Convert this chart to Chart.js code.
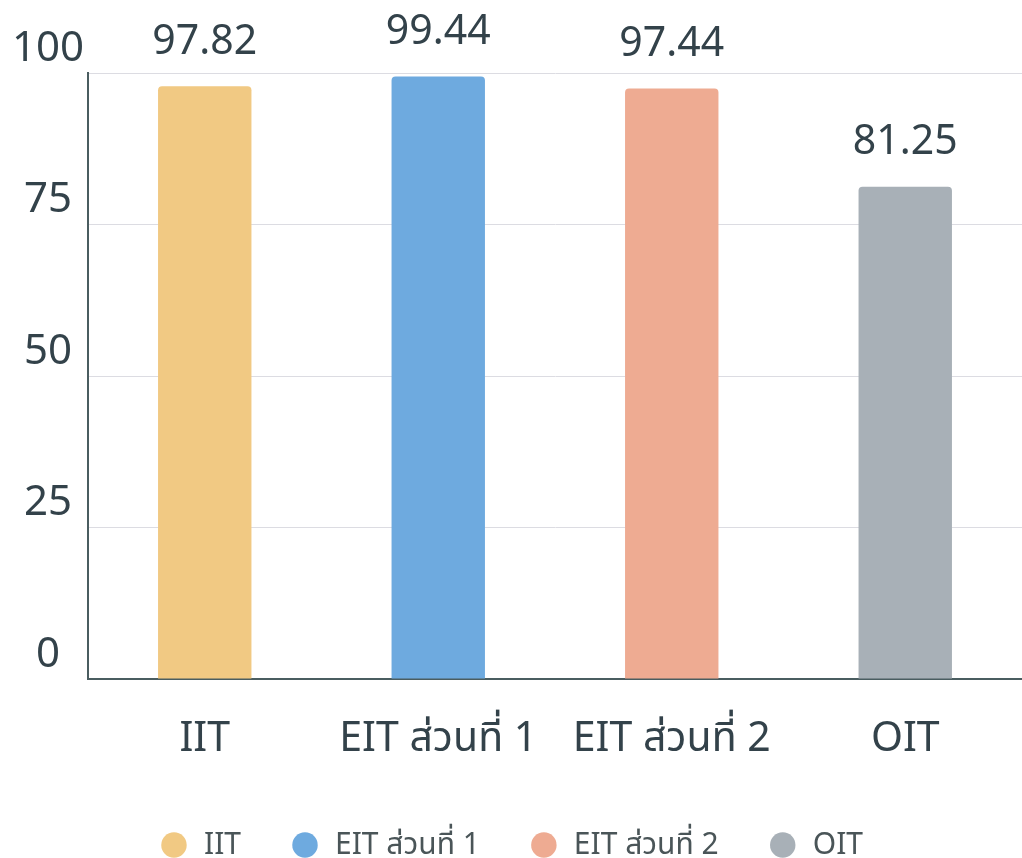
<!DOCTYPE html>
<html>
<head>
<meta charset="utf-8">
<script src="https://cdn.jsdelivr.net/npm/chart.js@4.4.0/dist/chart.umd.min.js"></script>
<style>
  html, body { margin: 0; padding: 0; background: #ffffff; }
  #wrap { width: 1022px; height: 858px; }
</style>
</head>
<body>
<div id="wrap"><canvas id="c" width="1022" height="858"></canvas></div>
<script>
const categories = ['IIT', 'EIT ส่วนที่ 1', 'EIT ส่วนที่ 2', 'OIT'];
const scores = [97.82, 99.44, 97.44, 81.25];
const barColors = ['#F1C983', '#6EAADF', '#EEAB92', '#A8B0B7'];
const yTicks = [0, 25, 50, 75, 100];

const FONT = "'Noto Sans', 'Noto Sans Thai', 'Open Sans', sans-serif";
const TEXT = '#33424a';
const AXIS = '#4a5d60';

const valueLabels = {
  id: 'valueLabels',
  afterDatasetsDraw(chart) {
    const ctx = chart.ctx;
    const meta = chart.getDatasetMeta(0);
    ctx.save();
    ctx.font = '41px ' + FONT;
    ctx.fillStyle = TEXT;
    ctx.textAlign = 'center';
    ctx.textBaseline = 'middle';
    meta.data.forEach((bar, i) => {
      ctx.fillText(scores[i].toFixed(2), bar.x, bar.y - 44);
    });
    ctx.restore();
  }
};

new Chart(document.getElementById('c'), {
  type: 'bar',
  data: {
    labels: categories,
    datasets: [{
      data: scores,
      backgroundColor: barColors,
      borderRadius: 4,
      barPercentage: 0.4,
      categoryPercentage: 1.0
    }]
  },
  options: {
    responsive: false,
    animation: false,
    layout: { padding: { top: 73, left: 0, right: 0, bottom: 0 } },
    plugins: {
      tooltip: { enabled: false },
      legend: {
        position: 'bottom',
        maxHeight: 77,
        labels: {
          usePointStyle: true,
          pointStyle: 'circle',
          boxHeight: 18,
          padding: 49,
          color: '#4a5558',
          font: { family: FONT, size: 30 },
          generateLabels() {
            return categories.map((c, i) => ({
              text: c,
              fillStyle: barColors[i],
              strokeStyle: barColors[i],
              lineWidth: 0,
              pointStyle: 'circle',
              fontColor: '#4a5558',
              hidden: false,
              index: i
            }));
          }
        }
      }
    },
    scales: {
      x: {
        grid: { display: false, drawTicks: false },
        border: { display: true, color: AXIS, width: 2 },
        ticks: { color: TEXT, font: { family: FONT, size: 41 }, padding: 36, maxRotation: 0, autoSkip: false },
        afterFit(scale) { scale.height = 858 - 679 - 77; }
      },
      y: {
        min: 0,
        max: 100,
        afterBuildTicks(scale) { scale.ticks = yTicks.map(v => ({ value: v })); },
        grid: { color: '#dcdce2', lineWidth: 1, drawTicks: false },
        border: { display: true, color: AXIS, width: 2, dash: [] },
        ticks: {
          color: TEXT,
          font: { family: FONT, size: 42 },
          padding: 4,
          crossAlign: 'center',
          labelOffset: -24
        },
        afterFit(scale) { scale.width = 88; }
      }
    }
  },
  plugins: [valueLabels]
});
</script>
</body>
</html>
